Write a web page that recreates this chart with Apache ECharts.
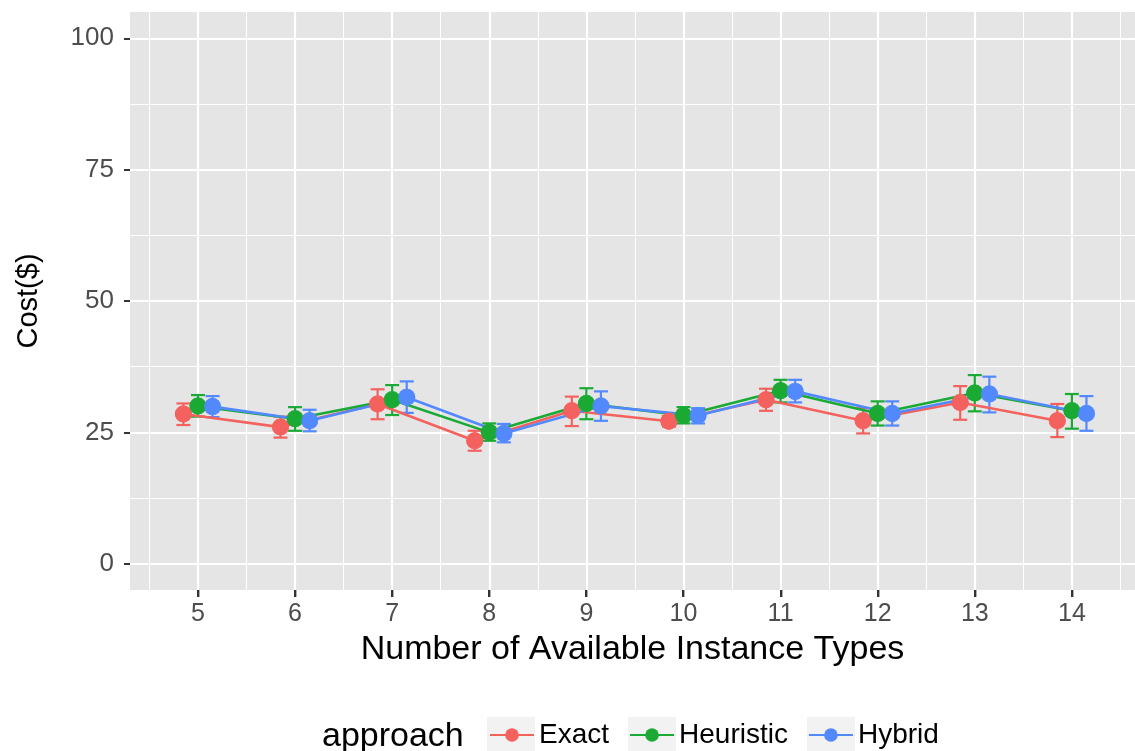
<!DOCTYPE html>
<html>
<head>
<meta charset="utf-8">
<script src="https://cdn.jsdelivr.net/npm/echarts@6/dist/echarts.min.js"></script>
<style>
  html, body { margin: 0; padding: 0; background: #fff; }
  #main { width: 1135px; height: 751px; }
</style>
</head>
<body>
<div id="main"></div>
<script>
// number of available instance types
const types = [5, 6, 7, 8, 9, 10, 11, 12, 13, 14];
const yTicks = [0, 25, 50, 75, 100];
const yMinor = [12.5, 37.5, 62.5, 87.5];
const xMinor = [4.5, 5.5, 6.5, 7.5, 8.5, 9.5, 10.5, 11.5, 12.5, 13.5, 14.5];

// cost ($) mean, lower, upper per approach
const exactMean = [28.5, 26.0, 30.4, 23.4, 29.1, 27.1, 31.2, 27.2, 30.7, 27.2];
const exactLow  = [26.4, 24.0, 27.5, 21.5, 26.2, 26.1, 29.1, 24.8, 27.4, 24.1];
const exactHigh = [30.5, 28.0, 33.2, 25.3, 31.8, 28.1, 33.3, 29.6, 33.8, 30.4];

const heurMean = [30.0, 27.6, 31.2, 25.0, 30.5, 28.2, 32.9, 28.6, 32.5, 29.1];
const heurLow  = [28.0, 25.3, 28.3, 23.4, 27.5, 26.7, 30.7, 26.3, 29.0, 25.7];
const heurHigh = [32.1, 29.8, 34.0, 26.7, 33.4, 29.8, 35.0, 30.9, 35.9, 32.3];

const hybMean = [29.9, 27.2, 31.7, 24.8, 30.0, 28.2, 32.8, 28.6, 32.3, 28.6];
const hybLow  = [27.9, 25.2, 28.7, 23.1, 27.2, 26.7, 30.7, 26.3, 28.8, 25.3];
const hybHigh = [31.9, 29.3, 34.7, 26.6, 32.8, 29.6, 35.0, 30.9, 35.6, 31.9];

const approaches = [
  { name: 'Exact', color: '#F4625E', dodge: -0.15, mean: exactMean, low: exactLow, high: exactHigh },
  { name: 'Heuristic', color: '#1AAA35', dodge: 0, mean: heurMean, low: heurLow, high: heurHigh },
  { name: 'Hybrid', color: '#5389FF', dodge: 0.15, mean: hybMean, low: hybLow, high: hybHigh }
];

const FONT = 'Liberation Sans, Arial, sans-serif';
const chart = echarts.init(document.getElementById('main'));

function errorBar(color) {
  return function (params, api) {
    const x = api.value(0);
    const top = api.coord([x, api.value(2)]);
    const bot = api.coord([x, api.value(1)]);
    const w = 7;
    const style = { stroke: color, lineWidth: 2.2 };
    return {
      type: 'group',
      children: [
        { type: 'line', shape: { x1: top[0], y1: top[1], x2: bot[0], y2: bot[1] }, style: style },
        { type: 'line', shape: { x1: top[0] - w, y1: top[1], x2: top[0] + w, y2: top[1] }, style: style },
        { type: 'line', shape: { x1: bot[0] - w, y1: bot[1], x2: bot[0] + w, y2: bot[1] }, style: style }
      ]
    };
  };
}

const series = [];
approaches.forEach(a => {
  series.push({
    name: a.name,
    type: 'line',
    data: types.map((t, i) => [t + a.dodge, a.mean[i]]),
    color: a.color,
    symbol: 'circle',
    symbolSize: 17,
    showSymbol: true,
    lineStyle: { width: 2.6 },
    z: 3,
    animation: false
  });
});
approaches.forEach(a => {
  series.push({
    name: a.name,
    type: 'custom',
    renderItem: errorBar(a.color),
    data: types.map((t, i) => [t + a.dodge, a.low[i], a.high[i]]),
    encode: { x: 0, y: [1, 2] },
    z: 2,
    animation: false
  });
});
approaches.forEach(a => {
  series.push({
    name: a.name,
    type: 'scatter',
    data: types.map((t, i) => [t + a.dodge, a.mean[i]]),
    color: a.color,
    symbol: 'circle',
    symbolSize: 17,
    z: 4,
    animation: false
  });
});

// grey key boxes behind legend symbols
const keyBoxes = [487, 628, 807].map(x => ({
  type: 'rect',
  left: x,
  top: 717,
  shape: { width: 48, height: 38 },
  style: { fill: '#f2f2f2' },
  z: -1
}));
const legendTitle = {
  type: 'text',
  left: 322,
  top: 720,
  style: { text: 'approach', fontSize: 34, fill: '#000', fontFamily: FONT }
};

const options = {
  backgroundColor: '#fff',
  textStyle: { fontFamily: FONT },
  grid: {
    left: 130,
    right: 0,
    top: 12,
    bottom: 161,
    show: true,
    backgroundColor: '#e5e5e5',
    borderWidth: 0
  },
  legend: {
    data: ['Exact', 'Heuristic', 'Hybrid'],
    left: 489,
    top: 721,
    padding: 0,
    itemWidth: 44,
    itemHeight: 17,
    itemGap: 20,
    textStyle: { fontSize: 28, color: '#000', fontFamily: FONT }
  },
  graphic: keyBoxes.concat([legendTitle]),
  xAxis: [{
    type: 'value',
    min: 4.3,
    max: 14.65,
    position: 'bottom',
    axisLine: { show: false, onZero: false },
    axisTick: { show: false, customValues: types },
    axisLabel: { customValues: types, fontSize: 25, color: '#4d4d4d', margin: 12, fontFamily: FONT },
    splitLine: { show: true, lineStyle: { color: '#fff', width: 2.2 } },
    name: 'Number of Available Instance Types',
    nameLocation: 'middle',
    nameGap: 43,
    nameTextStyle: { fontSize: 34, color: '#000', fontFamily: FONT }
  }, {
    type: 'value',
    min: 4.3,
    max: 14.65,
    position: 'top',
    axisLine: { show: false, onZero: false },
    axisTick: { show: false, customValues: xMinor },
    axisLabel: { show: false },
    splitLine: { show: true, lineStyle: { color: '#fff', width: 1.1 } }
  }],
  yAxis: [{
    type: 'value',
    min: -5,
    max: 105,
    position: 'left',
    axisLine: { show: false, onZero: false },
    axisTick: { customValues: yTicks, length: 6, lineStyle: { color: '#333', width: 2 } },
    axisLabel: { customValues: yTicks, fontSize: 26, color: '#4d4d4d', margin: 16, fontFamily: FONT },
    splitLine: { show: true, lineStyle: { color: '#fff', width: 2.2 } },
    name: 'Cost($)',
    nameLocation: 'middle',
    nameRotate: 90,
    nameGap: 87,
    nameTextStyle: { fontSize: 29, color: '#000', fontFamily: FONT }
  }, {
    type: 'value',
    min: -5,
    max: 105,
    position: 'right',
    axisLine: { show: false, onZero: false },
    axisTick: { show: false, customValues: yMinor },
    axisLabel: { show: false },
    splitLine: { show: true, lineStyle: { color: '#fff', width: 1.1 } }
  }],
  series: series
};

chart.setOption(options);

// x tick marks below the panel, placed through the axis scale, on their own layer
const panelBottom = chart.convertToPixel({ yAxisIndex: 0 }, -5);
const tickMarks = types.map(t => {
  const px = Math.round(chart.convertToPixel({ xAxisIndex: 0 }, t));
  return {
    type: 'rect',
    shape: { x: px - 1, y: panelBottom, width: 2.4, height: 7 },
    style: { fill: '#333' },
    zlevel: 1,
    z: 100
  };
});
chart.setOption({ graphic: keyBoxes.concat([legendTitle], tickMarks) });
</script>
</body>
</html>
